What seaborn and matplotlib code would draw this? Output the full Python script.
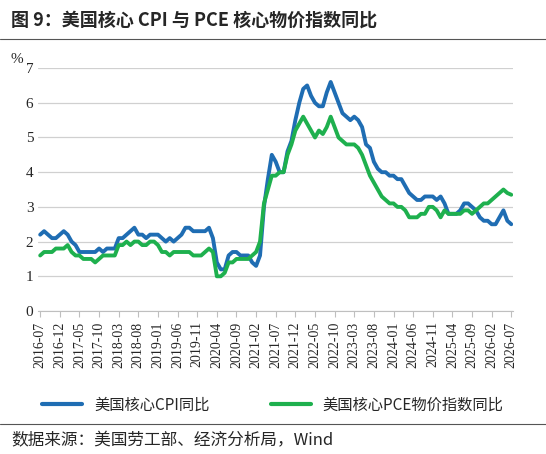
import matplotlib
matplotlib.use("Agg")
import matplotlib.pyplot as plt
import pandas as pd
import seaborn as sns
from matplotlib.lines import Line2D

sns.set_style("white")
plt.rcParams["font.family"] = ["Noto Sans CJK SC", "DejaVu Sans"]
plt.rcParams["axes.unicode_minus"] = False

months = pd.period_range("2016-07", "2026-07", freq="M").strftime("%Y-%m").tolist()

core_cpi = [
    2.2, 2.3, 2.2, 2.1, 2.1, 2.2,
    2.3, 2.2, 2.0, 1.9, 1.7, 1.7, 1.7, 1.7, 1.7, 1.8, 1.7, 1.8,
    1.8, 1.8, 2.1, 2.1, 2.2, 2.3, 2.4, 2.2, 2.2, 2.1, 2.2, 2.2,
    2.2, 2.1, 2.0, 2.1, 2.0, 2.1, 2.2, 2.4, 2.4, 2.3, 2.3, 2.3,
    2.3, 2.4, 2.1, 1.4, 1.2, 1.2, 1.6, 1.7, 1.7, 1.6, 1.6, 1.6,
    1.4, 1.3, 1.6, 3.0, 3.8, 4.5, 4.3, 4.0, 4.0, 4.6, 4.9, 5.5,
    6.0, 6.4, 6.5, 6.2, 6.0, 5.9, 5.9, 6.3, 6.6, 6.3, 6.0, 5.7,
    5.6, 5.5, 5.6, 5.5, 5.3, 4.8, 4.7, 4.3, 4.1, 4.0, 4.0, 3.9,
    3.9, 3.8, 3.8, 3.6, 3.4, 3.3, 3.2, 3.2, 3.3, 3.3, 3.3, 3.2,
    3.3, 3.1, 2.8, 2.8, 2.8, 2.9, 3.1, 3.1, 3.0, 2.9, 2.7, 2.6,
    2.6, 2.5, 2.5, 2.7, 2.9, 2.6, 2.5,
]
core_pce = [
    1.6, 1.7, 1.7, 1.7, 1.8, 1.8,
    1.8, 1.9, 1.7, 1.6, 1.6, 1.5, 1.5, 1.5, 1.4, 1.5, 1.6, 1.6,
    1.6, 1.6, 1.9, 1.9, 2.0, 1.9, 2.0, 2.0, 1.9, 1.9, 2.0, 2.0,
    1.9, 1.7, 1.7, 1.6, 1.7, 1.7, 1.7, 1.7, 1.7, 1.6, 1.6, 1.6,
    1.7, 1.8, 1.7, 1.0, 1.0, 1.1, 1.4, 1.4, 1.5, 1.5, 1.5, 1.5,
    1.6, 1.7, 2.0, 3.1, 3.5, 3.9, 3.9, 4.0, 4.0, 4.5, 4.8, 5.2,
    5.4, 5.6, 5.4, 5.2, 5.0, 5.2, 5.1, 5.3, 5.6, 5.3, 5.0, 4.9,
    4.8, 4.8, 4.8, 4.7, 4.5, 4.2, 3.9, 3.7, 3.5, 3.3, 3.2, 3.1,
    3.1, 3.0, 3.0, 2.9, 2.7, 2.7, 2.7, 2.8, 2.8, 3.0, 3.0, 2.9,
    2.7, 2.9, 2.8, 2.8, 2.8, 2.8, 2.9, 2.9, 2.8, 2.9, 3.0, 3.1,
    3.1, 3.2, 3.3, 3.4, 3.5, 3.4, 3.35,
]
series_names = ["美国核心CPI同比", "美国核心PCE物价指数同比"]
colors = ["#1f6db3", "#1eb04e"]

df = pd.DataFrame({"month": months, series_names[0]: core_cpi, series_names[1]: core_pce})
long = df.melt(id_vars="month", var_name="series", value_name="value")
long["idx"] = long["month"].map({m: i for i, m in enumerate(months)})

fig = plt.figure(figsize=(5.46, 4.54), dpi=100)
ax = fig.add_axes([0.07, 0.315, 0.87, 0.535])
sns.lineplot(data=long, x="idx", y="value", hue="series", palette=colors,
             linewidth=2.8, ax=ax, legend=False)

ax.set_ylim(0, 7)
ax.set_xlim(-0.5, len(months) - 0.5)
ax.set_yticks(range(0, 8))
ax.yaxis.grid(True, color="#d0d0d0", linewidth=0.9)
tick_pos = list(range(0, len(months), 5))
ax.set_xticks(tick_pos)
ax.set_xticklabels([months[i] for i in tick_pos], rotation=90, fontsize=10,
                   family=["Times New Roman", "Liberation Serif", "DejaVu Serif"])
for lab in ax.get_yticklabels():
    lab.set_fontsize(11)
    lab.set_family(["Liberation Serif", "DejaVu Serif"])
ax.tick_params(axis="x", length=4, color="#bfbfbf", direction="out", bottom=True)
ax.tick_params(axis="y", length=0)
ax.set_xlabel("")
ax.set_ylabel("")
for s in ["top", "right", "left"]:
    ax.spines[s].set_visible(False)
ax.spines["bottom"].set_color("#bfbfbf")
ax.text(-0.045, 1.02, "%", transform=ax.transAxes, fontsize=11, ha="center",
        family=["Liberation Serif", "DejaVu Serif"])

handles = [Line2D([], [], color=c, linewidth=3) for c in colors]
fig.legend(handles, series_names, loc="center", bbox_to_anchor=(0.5, 0.108),
           ncol=2, frameon=False, fontsize=11, handlelength=2.6, columnspacing=4)

fig.text(0.02, 0.955, "图 9：美国核心 CPI 与 PCE 核心物价指数同比", fontsize=13,
         fontweight="bold", va="center")
fig.add_artist(Line2D([0.0, 1.0], [0.915, 0.915], color="#555555", linewidth=0.8))
fig.add_artist(Line2D([0.0, 1.0], [0.065, 0.065], color="#555555", linewidth=0.8))
fig.text(0.02, 0.03, "数据来源：美国劳工部、经济分析局，Wind", fontsize=12, va="center")

fig.savefig("out.png", dpi=100, facecolor="white")
